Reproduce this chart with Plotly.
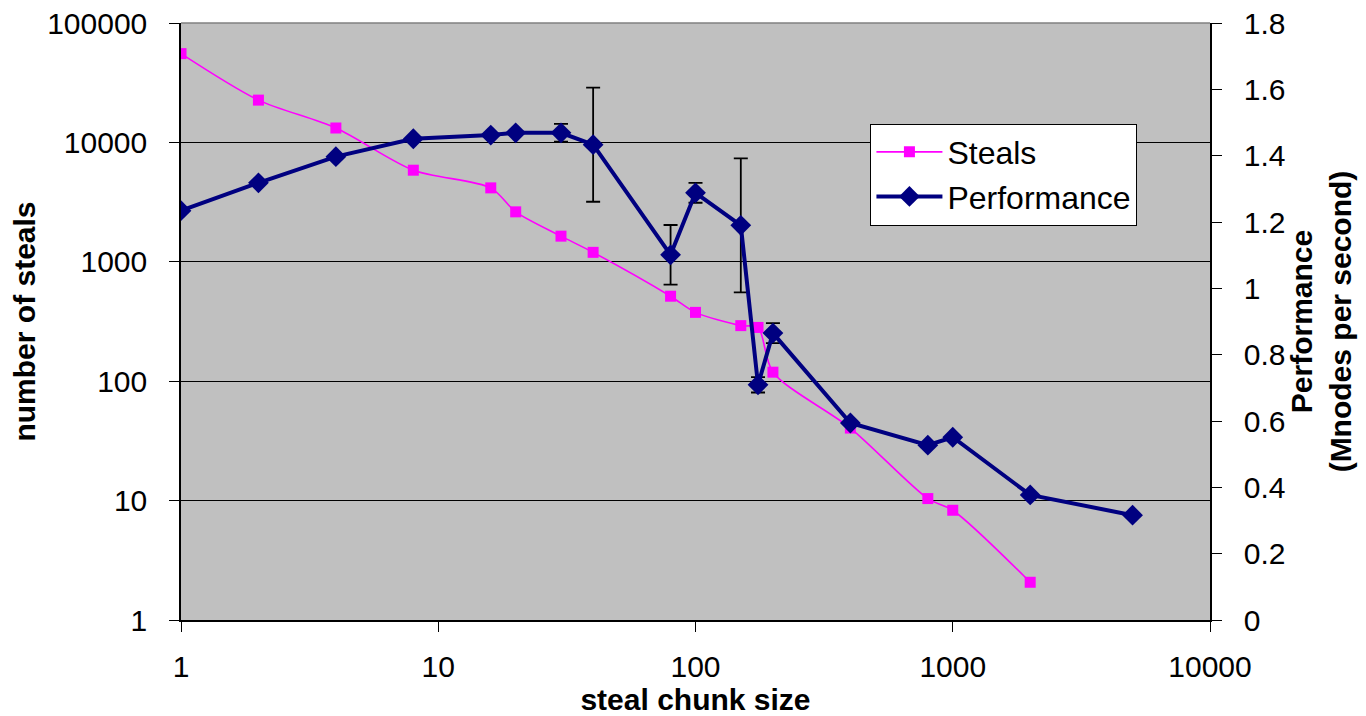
import plotly.graph_objects as go

# steal chunk size (x) and the two measured series
chunk_steals = [1, 2, 4, 8, 16, 20, 30, 40, 80, 100, 150, 175, 200, 400, 800, 1000, 2000]
steals = [55400, 22600, 13200, 5850, 4160, 2620, 1640, 1200, 515, 377, 292, 282, 119, 40.5, 10.4, 8.3, 2.07]

chunk_perf = [1, 2, 4, 8, 16, 20, 30, 40, 80, 100, 150, 175, 200, 400, 800, 1000, 2000, 5000]
performance = [1.234, 1.318, 1.397, 1.451, 1.462, 1.469, 1.469, 1.433, 1.101, 1.288, 1.190,
               0.709, 0.865, 0.594, 0.527, 0.551, 0.377, 0.316]
perf_err = [None, None, None, None, None, None, 0.027, 0.172, 0.09, 0.03, 0.202,
            0.023, 0.03, None, None, None, None, None]

steal_ticks = [1, 10, 100, 1000, 10000, 100000]
steal_tick_text = ["1", "10", "100", "1000", "10000", "100000"]
chunk_ticks = [1, 10, 100, 1000, 10000]
chunk_tick_text = ["1", "10", "100", "1000", "10000"]
perf_ticks = [0, 0.2, 0.4, 0.6, 0.8, 1.0, 1.2, 1.4, 1.6, 1.8]
perf_tick_text = ["0", "0.2", "0.4", "0.6", "0.8", "1", "1.2", "1.4", "1.6", "1.8"]

FONT = "Liberation Sans, Arial, sans-serif"

fig = go.Figure()

fig.add_trace(go.Scatter(
    x=chunk_steals, y=steals, name="Steals", mode="lines+markers",
    line=dict(color="#FF00FF", width=1.6, shape="spline", smoothing=0.8),
    marker=dict(symbol="square", size=11, color="#FF00FF"),
    yaxis="y",
))

fig.add_trace(go.Scatter(
    x=chunk_perf, y=performance, name="Performance", mode="lines+markers",
    line=dict(color="#000080", width=4),
    marker=dict(symbol="diamond", size=16, color="#000080"),
    error_y=dict(type="data", array=perf_err, visible=True, color="black",
                 thickness=1.8, width=7),
    yaxis="y2",
))

fig.update_layout(
    width=1366, height=716,
    margin=dict(l=181, r=156, t=23, b=96),
    paper_bgcolor="white", plot_bgcolor="#C0C0C0",
    font=dict(family=FONT, size=30, color="black"),
    showlegend=True,
    legend=dict(x=0.670, y=0.8316, xanchor="left", yanchor="top",
                bgcolor="white", bordercolor="black", borderwidth=1,
                font=dict(size=32), itemwidth=66, tracegroupgap=0),
    xaxis=dict(
        type="log", range=[0, 4], automargin=False,
        tickmode="array", tickvals=chunk_ticks, ticktext=chunk_tick_text,
        ticks="outside", ticklen=10, tickcolor="black", tickwidth=1,
        showgrid=False, zeroline=False,
        showline=True, linecolor="black", linewidth=1.5,
        ticklabelstandoff=9,
        title=dict(text="<b>steal chunk size</b>", standoff=14,
                   font=dict(size=30)),
    ),
    yaxis=dict(
        type="log", range=[0, 5], automargin=False,
        tickmode="array", tickvals=steal_ticks, ticktext=steal_tick_text,
        ticks="outside", ticklen=10, tickcolor="black", tickwidth=1,
        showgrid=True, gridcolor="black", gridwidth=1,
        zeroline=False,
        showline=True, linecolor="black", linewidth=1.5,
        ticklabelstandoff=16,
        title=dict(text="<b>number of steals</b>", standoff=3,
                   font=dict(size=30)),
    ),
    yaxis2=dict(
        overlaying="y", side="right", anchor="x", automargin=False,
        range=[0, 1.8],
        tickmode="array", tickvals=perf_ticks, ticktext=perf_tick_text,
        ticks="outside", ticklen=10, tickcolor="black", tickwidth=1,
        showgrid=False, zeroline=False,
        showline=True, linecolor="black", linewidth=1.5,
        ticklabelstandoff=16,
        title=dict(text="<b>Performance<br>(Mnodes per second)</b>", standoff=5,
                   font=dict(size=30)),
    ),
    # inner half of the crossing tick marks on the right axis
    yaxis3=dict(
        overlaying="y", side="right", anchor="x", automargin=False,
        range=[0, 1.8],
        tickmode="array", tickvals=perf_ticks,
        ticks="inside", ticklen=10, tickcolor="black", tickwidth=1,
        showticklabels=False, showgrid=False, zeroline=False, showline=False,
    ),
    shapes=[dict(type="line", xref="paper", yref="paper", x0=0, x1=1, y0=1, y1=1,
                 line=dict(color="#808080", width=1.5), layer="above")],
)

fig.write_html("out.html")
